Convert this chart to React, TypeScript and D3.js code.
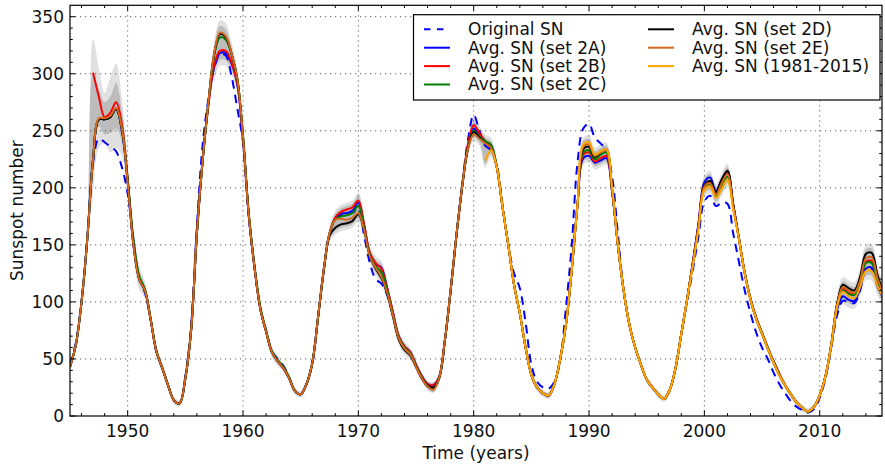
import React from "react";
import * as d3 from "d3";

// sample years (half-year grid)
const years = [
  1945, 1945.5, 1946, 1946.5, 1947, 1947.5, 1948, 1948.5, 1949, 1949.5,
  1950, 1950.5, 1951, 1951.5, 1952, 1952.5, 1953, 1953.5, 1954, 1954.5,
  1955, 1955.5, 1956, 1956.5, 1957, 1957.5, 1958, 1958.5, 1959, 1959.5,
  1960, 1960.5, 1961, 1961.5, 1962, 1962.5, 1963, 1963.5, 1964, 1964.5,
  1965, 1965.5, 1966, 1966.5, 1967, 1967.5, 1968, 1968.5, 1969, 1969.5,
  1970, 1970.5, 1971, 1971.5, 1972, 1972.5, 1973, 1973.5, 1974, 1974.5,
  1975, 1975.5, 1976, 1976.5, 1977, 1977.5, 1978, 1978.5, 1979, 1979.5,
  1980, 1980.5, 1981, 1981.5, 1982, 1982.5, 1983, 1983.5, 1984, 1984.5,
  1985, 1985.5, 1986, 1986.5, 1987, 1987.5, 1988, 1988.5, 1989, 1989.5,
  1990, 1990.5, 1991, 1991.5, 1992, 1992.5, 1993, 1993.5, 1994, 1994.5,
  1995, 1995.5, 1996, 1996.5, 1997, 1997.5, 1998, 1998.5, 1999, 1999.5,
  2000, 2000.5, 2001, 2001.5, 2002, 2002.5, 2003, 2003.5, 2004, 2004.5,
  2005, 2005.5, 2006, 2006.5, 2007, 2007.5, 2008, 2008.5, 2009, 2009.5,
  2010, 2010.5, 2011, 2011.5, 2012, 2012.5, 2013, 2013.5, 2014, 2014.5,
  2015, 2015.5,
];

const originalSN = [
  45, 64, 100, 155, 222, 243, 240, 236, 232, 218,
  195, 154, 121, 108, 84, 56, 42, 27, 14, 11,
  35, 79, 166, 238, 278, 305, 317, 316, 298, 270,
  240, 176, 130, 94, 75, 57, 50, 44, 34, 22,
  19, 28, 46, 86, 128, 160, 172, 176, 177, 178,
  182, 158, 134, 120, 116, 106, 88, 68, 59, 54,
  43, 33, 26, 24, 33, 66, 110, 158, 202, 242,
  264, 250, 237, 233, 220, 185, 150, 125, 112, 82,
  45, 30, 25, 24, 30, 49, 95, 150, 222, 252,
  256, 244, 239, 233, 210, 160, 110, 80, 60, 45,
  32, 25, 19, 15, 23, 42, 72, 100, 128, 158,
  188, 193, 184, 187, 186, 160, 135, 110, 90, 73,
  60, 50, 38, 28, 20, 13, 8, 5, 3, 6,
  16, 33, 60, 88, 101, 100, 99, 110, 128, 129,
  114, 103,
];

const set2A = [
  43, 62, 100, 155, 225, 260, 260, 262, 269, 250,
  205, 150, 120, 110, 84, 56, 42, 27, 14, 11,
  33, 75, 160, 224, 274, 306, 318, 318, 309, 291,
  242, 175, 130, 94, 74, 56, 48, 42, 33, 22,
  19, 28, 46, 86, 128, 160, 173, 177, 178, 180,
  187, 167, 142, 133, 130, 112, 91, 70, 61, 56,
  45, 35, 28, 27, 34, 66, 110, 158, 201, 236,
  252, 246, 240, 235, 218, 183, 150, 115, 90, 60,
  36, 25, 20, 18, 28, 50, 80, 128, 185, 226,
  228, 222, 224, 226, 196, 150, 110, 80, 60, 45,
  32, 25, 19, 15, 23, 42, 72, 102, 135, 170,
  205, 209, 197, 207, 214, 185, 155, 125, 102, 85,
  72, 59, 47, 36, 27, 19, 12, 7, 4, 8,
  18, 35, 61, 93, 105, 102, 101, 112, 129, 130,
  115, 103,
];

const set2B = [
  null, null, null, null, 301, 280, 262, 266, 275, 256,
  208, 151, 121, 110, 84, 56, 42, 27, 14, 11,
  33, 75, 160, 224, 272, 308, 320, 320, 310, 292,
  243, 176, 130, 94, 74, 56, 48, 42, 33, 22,
  19, 28, 46, 86, 128, 160, 174, 179, 181, 183,
  189, 168, 143, 134, 129, 112, 91, 70, 61, 56,
  45, 35, 28, 27, 34, 66, 110, 158, 201, 238,
  255, 248, 241, 236, 219, 183, 150, 115, 90, 60,
  36, 25, 20, 18, 28, 50, 80, 128, 185, 229,
  231, 223, 226, 228, 197, 150, 110, 80, 60, 45,
  32, 25, 19, 15, 23, 42, 72, 102, 134, 168,
  202, 205, 195, 206, 213, 185, 155, 125, 102, 85,
  72, 59, 47, 36, 27, 19, 12, 7, 4, 8,
  18, 35, 62, 97, 112, 109, 107, 117, 135, 136,
  119, 106,
];

const set2C = [
  43, 62, 100, 155, 225, 260, 260, 262, 269, 252,
  208, 155, 123, 111, 85, 57, 42, 27, 14, 11,
  33, 75, 160, 224, 275, 316, 332, 330, 317, 296,
  246, 178, 132, 96, 75, 57, 49, 43, 34, 22,
  19, 28, 46, 86, 128, 160, 172, 175, 176, 178,
  184, 165, 141, 131, 126, 110, 89, 69, 60, 55,
  44, 34, 26, 24, 33, 66, 110, 158, 201, 235,
  250, 245, 241, 238, 219, 183, 150, 115, 90, 60,
  36, 25, 20, 18, 28, 50, 80, 128, 185, 231,
  233, 225, 229, 231, 198, 150, 110, 80, 60, 45,
  32, 25, 19, 15, 23, 42, 72, 102, 133, 166,
  200, 203, 193, 202, 210, 183, 155, 125, 102, 85,
  72, 59, 47, 36, 27, 19, 12, 7, 4, 8,
  18, 35, 62, 96, 110, 107, 106, 116, 134, 134,
  118, 105,
];

const set2D = [
  43, 62, 100, 155, 225, 260, 260, 262, 269, 251,
  206, 151, 120, 110, 84, 56, 42, 27, 14, 11,
  33, 75, 160, 224, 275, 317, 335, 332, 318, 296,
  245, 176, 130, 94, 74, 56, 48, 42, 33, 22,
  19, 28, 46, 86, 127, 158, 165, 168, 169, 171,
  177, 163, 140, 129, 121, 107, 87, 67, 58, 53,
  43, 33, 27, 25, 33, 66, 110, 158, 201, 234,
  249, 244, 239, 235, 218, 183, 150, 115, 90, 60,
  36, 25, 20, 18, 28, 50, 80, 128, 185, 234,
  236, 227, 231, 234, 199, 150, 110, 80, 60, 45,
  32, 25, 19, 15, 23, 42, 72, 102, 134, 168,
  202, 206, 196, 207, 215, 186, 156, 126, 103, 86,
  73, 60, 48, 37, 27, 19, 12, 7, 4, 8,
  18, 35, 63, 98, 115, 112, 110, 122, 142, 143,
  124, 108,
];

const set2E = [
  43, 62, 100, 155, 225, 261, 261, 263, 270, 252,
  205, 150, 120, 110, 84, 56, 42, 27, 14, 11,
  33, 75, 160, 224, 275, 318, 336, 333, 318, 296,
  245, 176, 130, 94, 74, 56, 48, 42, 33, 22,
  19, 28, 46, 86, 128, 160, 172, 173, 172, 174,
  178, 163, 140, 130, 122, 108, 88, 68, 59, 54,
  43, 33, 26, 23, 33, 66, 110, 158, 201, 234,
  247, 243, 239, 235, 218, 183, 150, 115, 90, 60,
  36, 25, 20, 18, 28, 50, 80, 128, 185, 236,
  238, 228, 231, 233, 199, 150, 110, 80, 60, 45,
  32, 25, 19, 15, 23, 42, 72, 102, 133, 167,
  201, 204, 194, 204, 212, 184, 155, 125, 102, 85,
  72, 59, 47, 36, 27, 19, 12, 7, 4, 8,
  18, 35, 62, 97, 113, 110, 108, 119, 138, 139,
  121, 107,
];

const set1981 = [
  null, null, null, null, null, null, null, null, null, null,
  null, null, null, null, null, null, null, null, null, null,
  null, null, null, null, null, null, null, null, null, null,
  null, null, null, null, null, null, null, null, null, null,
  null, null, null, null, null, null, null, null, null, null,
  null, null, null, null, null, null, null, null, null, null,
  null, null, null, null, null, null, null, null, null, null,
  null, null, 224, 233, 218, 183, 150, 115, 90, 60,
  36, 25, 20, 18, 28, 50, 80, 128, 185, 238,
  240, 229, 232, 234, 200, 150, 110, 80, 60, 45,
  32, 25, 19, 15, 23, 42, 72, 102, 132, 164,
  198, 201, 191, 199, 207, 181, 155, 125, 102, 85,
  72, 59, 47, 36, 27, 19, 12, 7, 4, 8,
  18, 35, 62, 95, 109, 105, 103, 113, 127, 127,
  114, 104,
];

// half-widths of the grey uncertainty bands around the set envelope
const darkPad = [
  1, 1, 1, 2, 0, 6, 13, 14, 17, 10,
  5, 4, 4, 3, 2, 2, 2, 2, 1, 1,
  2, 2, 2, 3, 4, 5, 6, 6, 5, 4,
  3, 3, 2, 2, 2, 2, 2, 2, 2, 1,
  1, 2, 2, 2, 2, 3, 3, 3, 3, 3,
  4, 4, 3, 3, 3, 2, 2, 2, 2, 2,
  2, 2, 2, 2, 2, 2, 2, 2, 2, 3,
  3, 3, 3, 3, 3, 2, 2, 2, 2, 2,
  2, 2, 2, 2, 2, 2, 2, 2, 2, 3,
  3, 3, 3, 3, 3, 2, 2, 2, 2, 2,
  2, 1, 1, 1, 1, 2, 2, 2, 2, 3,
  3, 3, 3, 3, 3, 3, 2, 2, 2, 2,
  2, 2, 2, 2, 1, 1, 1, 1, 1, 1,
  1, 2, 2, 3, 3, 3, 3, 3, 4, 4,
  4, 4,
];

const lightPad = [
  3, 3, 4, 5, 29, 25, 21, 31, 34, 22,
  12, 10, 9, 7, 5, 4, 4, 3, 3, 3,
  4, 5, 5, 7, 8, 10, 11, 11, 10, 8,
  6, 5, 4, 4, 4, 4, 4, 3, 3, 3,
  3, 4, 4, 4, 5, 6, 6, 6, 6, 6,
  7, 7, 6, 6, 6, 5, 4, 4, 4, 4,
  3, 3, 3, 3, 4, 4, 4, 5, 5, 6,
  6, 6, 6, 6, 5, 5, 4, 4, 4, 3,
  3, 3, 3, 3, 3, 4, 4, 5, 5, 6,
  6, 6, 6, 6, 5, 5, 4, 4, 3, 3,
  3, 3, 3, 3, 3, 4, 4, 4, 5, 6,
  6, 6, 6, 6, 6, 5, 4, 4, 4, 4,
  3, 3, 3, 3, 3, 3, 3, 3, 3, 3,
  3, 4, 5, 6, 7, 7, 7, 7, 8, 8,
  8, 8,
];

const xTickLabels = [1950, 1960, 1970, 1980, 1990, 2000, 2010];
const yTickLabels = [0, 50, 100, 150, 200, 250, 300, 350];

const seriesNames = [
  "Original SN",
  "Avg. SN (set 2A)",
  "Avg. SN (set 2B)",
  "Avg. SN (set 2C)",
  "Avg. SN (set 2D)",
  "Avg. SN (set 2E)",
  "Avg. SN (1981-2015)",
];
const seriesColors = ["#0000ff", "#0000ff", "#ff0000", "#008000", "#000000", "#d2691e", "#ffa500"];
const seriesData = [originalSN, set2A, set2B, set2C, set2D, set2E, set1981];

const W = 885;
const H = 464;
const L = 70;
const R = 882;
const T = 5.3;
const B = 416;
const FONT = "DejaVu Sans";

export default function App() {
  const x = d3.scaleLinear().domain([1945, 2015.4]).range([L, R]);
  const y = d3.scaleLinear().domain([0, 360]).range([B, T]);
  const curve = d3.curveCatmullRom.alpha(0.5);

  const sets = seriesData.slice(1);
  const env = years.map((_, i) => {
    const vals = sets.map((s) => s[i]).filter((v) => v != null) as number[];
    return [d3.min(vals) as number, d3.max(vals) as number];
  });

  const band = (pad: number[]) =>
    d3
      .area<number>()
      .x((d) => x(d))
      .y0((_, i) => y(env[i][0] - pad[i]))
      .y1((_, i) => y(env[i][1] + pad[i]))
      .curve(curve)(years) || "";

  const linePath = (data: (number | null)[]) =>
    d3
      .line<number | null>()
      .defined((v) => v != null)
      .x((_, i) => x(years[i]))
      .y((v) => y(v as number))
      .curve(curve)(data) || "";

  const xMinor = d3.range(1946, 2015.5, 2);
  const yMinor = d3.range(10, 360, 10);

  const legendRows = [
    { i: 0, col: 0, row: 0 },
    { i: 1, col: 0, row: 1 },
    { i: 2, col: 0, row: 2 },
    { i: 3, col: 0, row: 3 },
    { i: 4, col: 1, row: 0 },
    { i: 5, col: 1, row: 1 },
    { i: 6, col: 1, row: 2 },
  ];
  const legX = [424, 648];
  const legY0 = 29.3;
  const legDy = 18.4;

  return (
    <svg
      width={W}
      height={H}
      style={{ position: "absolute", left: 0, top: 0, background: "#fff" }}
      fontFamily={FONT}
    >
      <defs>
        <clipPath id="plotclip">
          <rect x={L} y={T} width={R - L} height={B - T} />
        </clipPath>
      </defs>
      <rect x={0} y={0} width={W} height={H} fill="#fff" />

      <g clipPath="url(#plotclip)">
        <path d={band(lightPad)} fill="#e0e0e0" />
        <path d={band(darkPad)} fill="#bcbcbc" />
      </g>

      {/* grid */}
      <g stroke="#333" strokeWidth={0.8} strokeDasharray="1.2,3.8">
        {xTickLabels.map((t) => (
          <line key={"gx" + t} x1={x(t)} x2={x(t)} y1={T} y2={B} />
        ))}
        {yTickLabels
          .filter((t) => t > 0)
          .map((t) => (
            <line key={"gy" + t} x1={L} x2={R} y1={y(t)} y2={y(t)} />
          ))}
      </g>

      <g clipPath="url(#plotclip)">
        {seriesData.map((s, k) => (
          <path
            key={"s" + k}
            d={linePath(s)}
            fill="none"
            stroke={seriesColors[k]}
            strokeWidth={2}
            strokeDasharray={k === 0 ? "8.5,6" : undefined}
            strokeLinejoin="round"
          />
        ))}
      </g>

      {/* axes frame */}
      <rect x={L} y={T} width={R - L} height={B - T} fill="none" stroke="#000" strokeWidth={1.2} />

      {/* ticks */}
      <g stroke="#000" strokeWidth={1}>
        {xTickLabels.map((t) => (
          <g key={"xt" + t}>
            <line x1={x(t)} x2={x(t)} y1={B} y2={B - 5.5} />
            <line x1={x(t)} x2={x(t)} y1={T} y2={T + 5.5} />
          </g>
        ))}
        {xMinor
          .filter((t) => !xTickLabels.includes(t))
          .map((t) => (
            <g key={"xm" + t}>
              <line x1={x(t)} x2={x(t)} y1={B} y2={B - 2.8} />
              <line x1={x(t)} x2={x(t)} y1={T} y2={T + 2.8} />
            </g>
          ))}
        {yTickLabels.map((t) => (
          <g key={"yt" + t}>
            <line x1={L} x2={L + 5.5} y1={y(t)} y2={y(t)} />
            <line x1={R} x2={R - 5.5} y1={y(t)} y2={y(t)} />
          </g>
        ))}
        {yMinor
          .filter((t) => t % 50 !== 0)
          .map((t) => (
            <g key={"ym" + t}>
              <line x1={L} x2={L + 2.8} y1={y(t)} y2={y(t)} />
              <line x1={R} x2={R - 2.8} y1={y(t)} y2={y(t)} />
            </g>
          ))}
      </g>

      {/* tick labels */}
      <g fontSize={17} fill="#111">
        {xTickLabels.map((t) => (
          <text key={"xl" + t} x={x(t)} y={436.5} textAnchor="middle">
            {t}
          </text>
        ))}
        {yTickLabels.map((t) => (
          <text key={"yl" + t} x={64} y={y(t) + 6} textAnchor="end">
            {t}
          </text>
        ))}
      </g>

      {/* axis labels */}
      <text x={(L + R) / 2} y={458.5} textAnchor="middle" fontSize={17} fill="#111">
        Time (years)
      </text>
      <text
        transform={`translate(22.5, ${(T + B) / 2}) rotate(-90)`}
        textAnchor="middle"
        fontSize={17}
        fill="#111"
      >
        Sunspot number
      </text>

      {/* legend */}
      <rect x={413.5} y={14.7} width={466.5} height={85.3} fill="#fff" stroke="#000" strokeWidth={1.2} />
      {legendRows.map(({ i, col, row }) => {
        const ly = legY0 + row * legDy;
        return (
          <g key={"lg" + i}>
            <line
              x1={legX[col]}
              x2={legX[col] + 26}
              y1={ly}
              y2={ly}
              stroke={seriesColors[i]}
              strokeWidth={2}
              strokeDasharray={i === 0 ? "6.5,6.5" : undefined}
            />
            <text x={legX[col] + 44} y={ly + 5.9} fontSize={17} fill="#111">
              {seriesNames[i]}
            </text>
          </g>
        );
      })}
    </svg>
  );
}
